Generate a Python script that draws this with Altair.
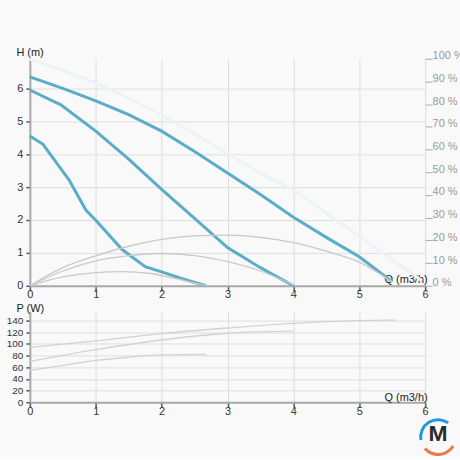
import altair as alt
import pandas as pd

FONT = "Liberation Sans"
BLUE = "#5aacc8"
ENVELOPE = "#eaf4f7"
CURVE_GREY = "#c9c9c9"
GRID = "#dedede"
AXIS_LINE = "#a9a9a9"

# Pump head curves H(Q) for the three speed settings
q_max = [0, 0.5, 1, 1.5, 2, 2.5, 3, 3.5, 4, 4.5, 5, 5.5]
h_max = [6.35, 6.0, 5.62, 5.2, 4.7, 4.08, 3.43, 2.77, 2.08, 1.47, 0.88, 0.12]

q_mid = [0, 0.47, 1, 1.5, 2, 2.5, 3, 3.5, 4.0]
h_mid = [5.95, 5.5, 4.7, 3.85, 2.93, 2.05, 1.16, 0.55, 0.0]

q_min = [0, 0.2, 0.6, 0.85, 1.0, 1.4, 1.75, 2.0, 2.3, 2.67]
h_min = [4.55, 4.3, 3.2, 2.3, 1.99, 1.1, 0.58, 0.42, 0.22, 0.0]

# Upper envelope of the pump range
q_env = [0, 0.5, 1, 1.5, 2, 2.5, 3, 3.5, 4, 4.5, 5, 5.5, 5.95]
h_env = [6.88, 6.55, 6.15, 5.7, 5.2, 4.62, 4.02, 3.42, 2.92, 2.21, 1.5, 0.8, 0.15]

# Efficiency (%) per speed setting
q_eff_max = [0, 0.5, 1, 1.5, 2, 2.5, 3, 3.5, 4, 4.5, 5, 5.5]
eff_max = [0, 8.0, 13.2, 17.4, 20.4, 22.0, 22.3, 21.3, 19.0, 15.2, 10.4, 1.7]
q_eff_mid = [0, 0.5, 1, 1.5, 2, 2.5, 3, 3.5, 4]
eff_mid = [0, 6.5, 11.0, 13.3, 14.2, 13.3, 10.6, 6.5, 0.4]
q_eff_min = [0, 0.5, 1, 1.4, 1.8, 2.2, 2.67]
eff_min = [0, 3.9, 5.8, 6.2, 5.5, 3.2, 0]

# Power input P(Q) in watts
q_p_max = [0, 1, 2, 3, 4, 5, 5.55]
p_max = [94, 105, 117.5, 127, 135, 139.5, 140.5]
q_p_mid = [0, 1, 2, 3, 4]
p_mid = [70, 90, 106.5, 118, 121.5]
q_p_min = [0, 0.5, 1, 1.5, 2, 2.67]
p_min = [54.5, 63, 71.5, 77, 81, 82]

q_ticks = [0, 1, 2, 3, 4, 5, 6]
h_ticks = [0, 1, 2, 3, 4, 5, 6]
pct_ticks = [0, 10, 20, 30, 40, 50, 60, 70, 80, 90, 100]
p_ticks = [0, 20, 40, 60, 80, 100, 120, 140]


def frame(pairs, ycol):
    rows = []
    for name, qs, ys in pairs:
        for q, y in zip(qs, ys):
            rows.append({"q": q, ycol: y, "curve": name})
    return pd.DataFrame(rows)


head = frame([("max", q_max, h_max), ("mid", q_mid, h_mid), ("min", q_min, h_min)], "h")
envelope = frame([("env", q_env, h_env)], "h")
eff = frame([("max", q_eff_max, eff_max), ("mid", q_eff_mid, eff_mid),
             ("min", q_eff_min, eff_min)], "eff")
power = frame([("max", q_p_max, p_max), ("mid", q_p_mid, p_mid), ("min", q_p_min, p_min)], "p")

W = 397


def q_axis(title_y):
    return alt.Axis(
        values=q_ticks, format="d", grid=True, gridColor=GRID,
        domainColor=AXIS_LINE, domainWidth=2, tickColor="#555", tickSize=5, tickWidth=1.5,
        labelPadding=-2, labelFlush=False, labelOverlap=False,
        labelFontSize=11, labelColor="#333",
        title="Q (m3/h)", titleAngle=0, titleAlign="right", titleBaseline="alphabetic",
        titleX=W + 2, titleY=title_y, titleFontWeight="normal", titleFontSize=11,
        titleColor="#222",
    )


x_scale = alt.Scale(domain=[0, 6], nice=False, zero=False)

h_axis = alt.Axis(
    values=h_ticks, format="d", grid=True, gridColor=GRID,
    domainColor=AXIS_LINE, domainWidth=2, tickColor="#555", tickSize=4, tickWidth=1.5,
    labelPadding=3, labelFontSize=11, labelColor="#333", labelFlush=False,
    title="H (m)", titleAngle=0, titleAlign="left", titleBaseline="alphabetic",
    titleX=-14, titleY=-3, titleFontWeight="normal", titleFontSize=11, titleColor="#222",
)
h_scale = alt.Scale(domain=[0, 6.9], nice=False)

env_line = alt.Chart(envelope).mark_line(color=ENVELOPE, strokeWidth=3).encode(
    x=alt.X("q:Q", scale=x_scale, axis=q_axis(-3)),
    y=alt.Y("h:Q", scale=h_scale, axis=h_axis),
)
head_lines = alt.Chart(head).mark_line(color=BLUE, strokeWidth=3).encode(
    x=alt.X("q:Q", scale=x_scale, axis=q_axis(-3)),
    y=alt.Y("h:Q", scale=h_scale, axis=h_axis),
    detail="curve:N",
)
eff_lines = alt.Chart(eff).mark_line(
    color=CURVE_GREY, strokeWidth=1.3, interpolate="monotone"
).encode(
    x=alt.X("q:Q", scale=x_scale, axis=q_axis(-3)),
    y=alt.Y(
        "eff:Q", scale=alt.Scale(domain=[0, 100], nice=False),
        axis=alt.Axis(
            orient="right", values=pct_ticks, grid=False, domain=False,
            tickColor="#aaa", tickSize=7, labelPadding=0, labelBaseline="alphabetic",
            labelExpr="datum.value + ' %'", labelFlush=False, labelOverlap=False,
            labelFontSize=11, labelColor="#9a9a9a", title=None,
        ),
    ),
    detail="curve:N",
)

top = alt.layer(alt.layer(env_line, head_lines), eff_lines).resolve_scale(
    y="independent"
).properties(width=W, height=228)

p_axis = alt.Axis(
    values=p_ticks, grid=True, gridColor=GRID,
    domainColor=AXIS_LINE, domainWidth=2, tickColor="#555", tickSize=4, tickWidth=1.5,
    labelPadding=3, labelFontSize=10, labelColor="#333", labelFlush=False,
    labelOverlap=False,
    title="P (W)", titleAngle=0, titleAlign="left", titleBaseline="alphabetic",
    titleX=-14, titleY=0, titleFontWeight="normal", titleFontSize=11, titleColor="#222",
)

power_lines = alt.Chart(power).mark_line(
    color="#d2d2d2", strokeWidth=1.3, interpolate="monotone"
).encode(
    x=alt.X("q:Q", scale=x_scale, axis=q_axis(-2)),
    y=alt.Y("p:Q", scale=alt.Scale(domain=[0, 155], nice=False), axis=p_axis),
    detail="curve:N",
)

# Brand badge in the lower right corner
badge = pd.DataFrame({"t": ["M"]})
badge_text = alt.Chart(badge).mark_text(
    font=FONT, fontSize=23, fontWeight="bold", color="#2b2b2b", baseline="middle"
).encode(text="t:N", x=alt.value(410), y=alt.value(123))
badge_blue = alt.Chart(badge).mark_arc(
    color="#1d9ade", radius=19, radius2=16, theta=4.55, theta2=6.9
).encode(x=alt.value(410), y=alt.value(126))
badge_orange = alt.Chart(badge).mark_arc(
    color="#e97b4b", radius=19, radius2=16, theta=2.1, theta2=4.0
).encode(x=alt.value(410), y=alt.value(126))

bottom = alt.layer(power_lines, badge_blue, badge_orange, badge_text).properties(
    width=W, height=91
)

chart = alt.vconcat(top, bottom, spacing=26, bounds="flush").properties(
    background="#f9f9f9",
    padding={"left": 6, "top": 46, "right": -4, "bottom": 0},
).configure_view(stroke=None).configure_axis(
    labelFont=FONT, titleFont=FONT
).configure_text(font=FONT)

chart.save("out.html", embed_options={"renderer": "svg", "actions": False})
